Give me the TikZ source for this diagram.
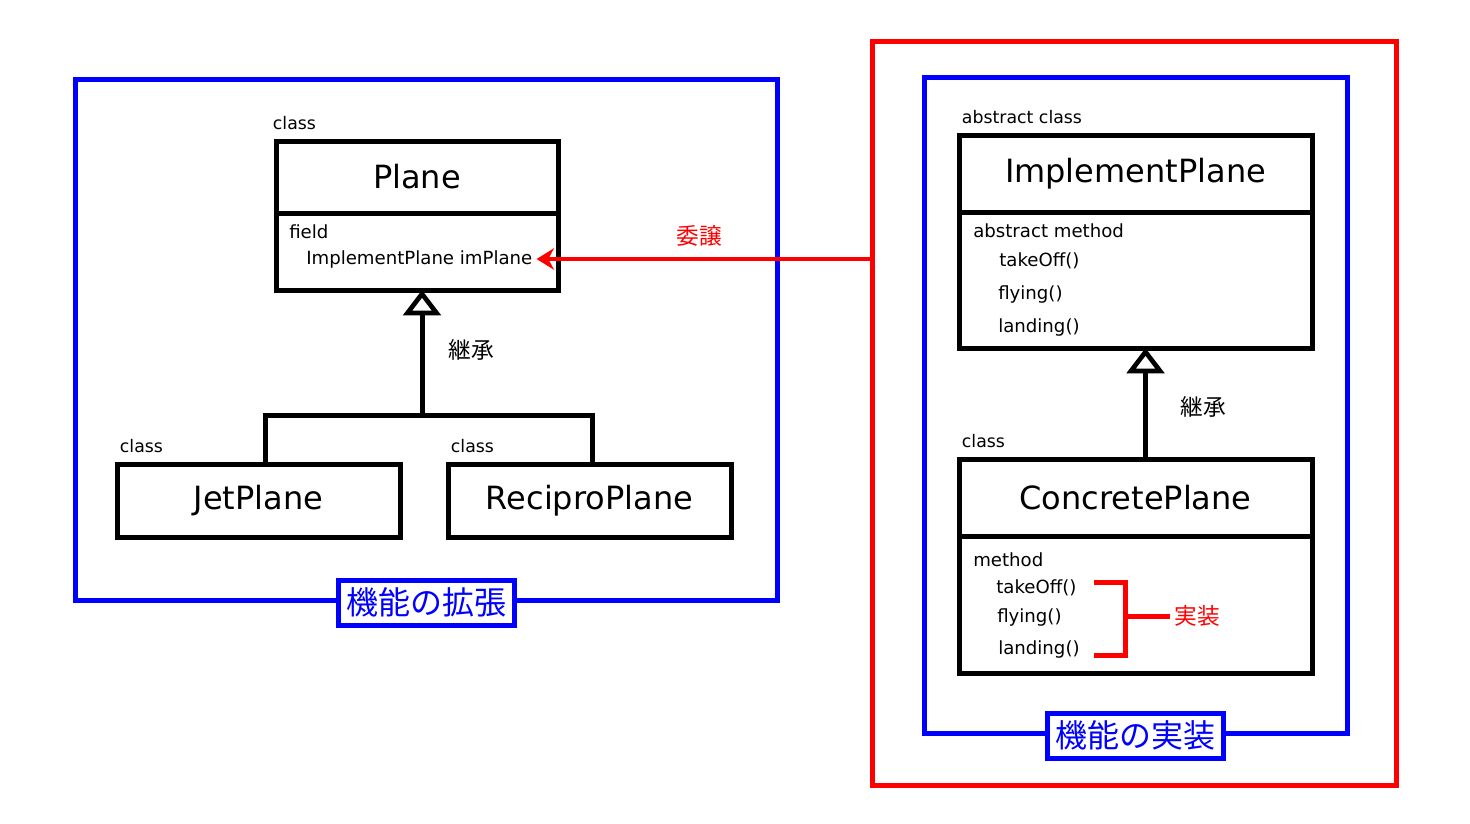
\documentclass[tikz,border=0pt]{standalone}
\usepackage{fontspec}
\setmainfont{DejaVu Sans}
\newfontfamily\jp{Noto Sans CJK JP}
\usetikzlibrary{arrows.meta, positioning}
\tikzset{
    classhead/.style={rectangle, draw, line width=3.75pt, outer sep=0pt, fill=white, font=\fontsize{24}{28}\selectfont},
    classbody/.style={rectangle, draw, line width=3.75pt, outer sep=0pt, fill=white},
    member/.style={anchor=west, inner sep=0pt, font=\fontsize{13.6}{16}\selectfont},
    kind/.style={anchor=south west, inner sep=2pt, yshift=6pt, font=\fontsize{13}{15}\selectfont},
    frame/.style={rectangle, draw, line width=3.75pt},
    framelabel/.style={rectangle, draw=blue, line width=3.75pt, fill=white, text=blue, minimum width=132pt, minimum height=33.75pt, inner sep=0pt, font=\jp\fontsize{24}{28}\selectfont},
    note/.style={font=\jp\fontsize{17}{20}\selectfont},
    inherit/.style={line width=3.75pt, -{Triangle[open, length=19pt, width=28pt, line width=3.5pt]}},
    line/.style={line width=3.75pt},
    delegate/.style={line width=3.5pt, red, -{Stealth[length=13pt, width=16pt]}},
    bracket/.style={line width=3.75pt, red}
}
\begin{document}
\begin{tikzpicture}[x=0.75pt, y=-0.75pt]
    \useasboundingbox (0,0) rectangle (1470,824);
    % frames
    \node[frame, draw=blue, minimum width=526.5pt, minimum height=390pt] (extframe) at (426,340) {};
    \node[frame, draw=red, minimum width=393pt, minimum height=557.25pt] (redframe) at (1134,413.5) {};
    \node[frame, draw=blue, minimum width=317.25pt, minimum height=491.25pt] (implframe) at (1135.5,405.5) {};
    \node[framelabel] (extlabel) at (extframe.south) {機能の拡張};
    \node[framelabel] (impllabel) at (implframe.south) {機能の実装};

    % Plane (top left)
    \node[classhead, minimum width=211.5pt, minimum height=54pt] (plane) at (417,177) {Plane};
    \node[classbody, below=0pt of plane.south, anchor=north, minimum width=211.5pt, minimum height=57.75pt] (planebody) {};
    \node[kind, xshift=-4.5pt] (planekind) at (plane.north west) {class};
    \node[member] (planefield) at (289,232) {field};
    \node[member] (imfield) at (306,259) {ImplementPlane imPlane};

    % subclasses
    \node[classhead, minimum width=212.25pt, minimum height=54.75pt] (jet) at (258.5,500.5) {JetPlane};
    \node[kind] (jetkind) at (jet.north west) {class};
    \node[classhead, minimum width=212.25pt, minimum height=54.75pt] (recip) at (589.5,500.5) {ReciproPlane};
    \node[kind] (recipkind) at (recip.north west) {class};
    \coordinate (joint) at (422,415);
    \draw[line] ([xshift=5.5pt]jet.north) |- (joint) -| ([xshift=2.5pt]recip.north);
    \draw[inherit] (joint) -- (joint |- planebody.south);
    \node[note] (extnote) at (471,350) {継承};

    % ImplementPlane (top right)
    \node[classhead, minimum width=264.75pt, minimum height=57.75pt] (implplane) at (1135.5,173.5) {ImplementPlane};
    \node[classbody, below=0pt of implplane.south, anchor=north, minimum width=264.75pt, minimum height=102pt] (implbody) {};
    \node[kind] (implkind) at (implplane.north west) {abstract class};
    \node[member] (absmethod) at (973,231) {abstract method};
    \node[member] (atakeoff) at (999,261) {takeOff()};
    \node[member] (aflying) at (998,294) {flying()};
    \node[member] (alanding) at (998,327) {landing()};

    % ConcretePlane
    \node[classhead, minimum width=264.75pt, minimum height=57.75pt] (concrete) at (1135.5,497.5) {ConcretePlane};
    \node[classbody, below=0pt of concrete.south, anchor=north, minimum width=264.75pt, minimum height=102.75pt] (concbody) {};
    \node[kind] (conckind) at (concrete.north west) {class};
    \node[member] (cmethod) at (973,560) {method};
    \node[member] (ctakeoff) at (996,588) {takeOff()};
    \node[member] (cflying) at (997,617) {flying()};
    \node[member] (clanding) at (998,649) {landing()};
    \draw[inherit] ([xshift=7.5pt]concrete.north) -- ([xshift=7.5pt]implbody.south);
    \node[note] (implnote) at (1203,407) {継承};

    % implementation bracket
    \coordinate (brtop) at (1125,582);
    \coordinate (brbot) at (1125,655);
    \node[note, text=red] (implmark) at (1197,616) {実装};
    \draw[bracket] (1094,582) -- (brtop) -- (brbot) -- (1094,655);
    \draw[bracket] (brtop |- implmark) -- (implmark.west);

    % delegation
    \draw[delegate] (redframe.west |- imfield.east) -- ([xshift=3pt]imfield.east);
    \node[note, text=red] (delnote) at (699,236) {委譲};
\end{tikzpicture}
\end{document}
